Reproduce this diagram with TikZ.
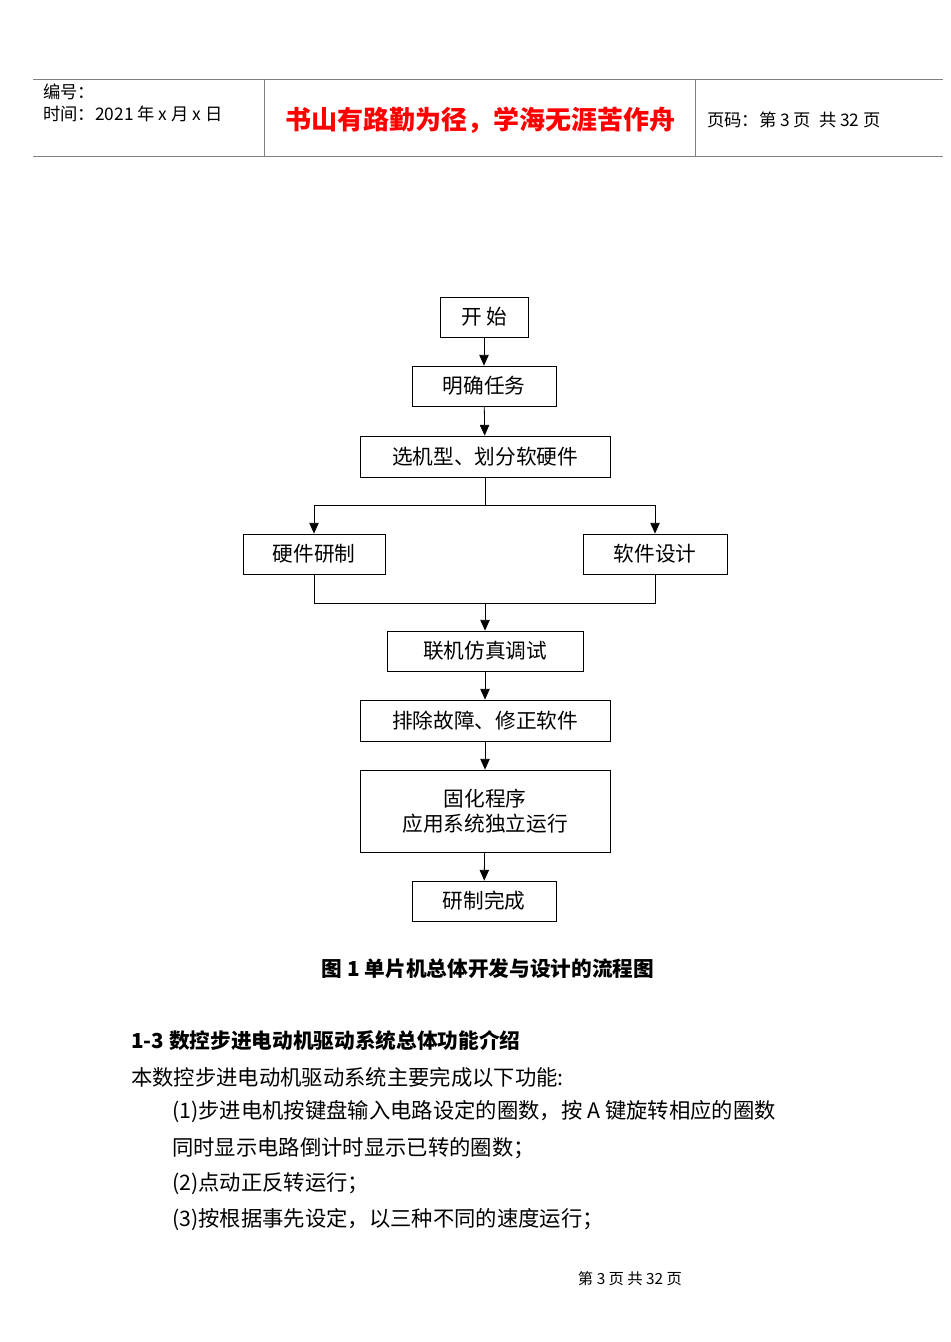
\documentclass[tikz,border=0pt]{standalone}
\usepackage{fontspec}
\setmainfont{Noto Sans CJK SC}
\usetikzlibrary{arrows.meta}
\begin{document}
\begin{tikzpicture}[x=0.75pt,y=-0.75pt,
  box/.style={draw,semithick,inner sep=0pt,font=\fontsize{15.5}{19}\selectfont,align=center},
  arr/.style={semithick,-{Triangle[length=8pt,width=7pt]}},
  ln/.style={semithick},
  txt/.style={anchor=west,inner sep=0pt,font=\fontsize{16}{19}\selectfont}]
\useasboundingbox (0,0) rectangle (950,1342);
\fill[white] (0,0) rectangle (950,1342);
% header
\draw[gray] (33,79) -- (943,79) (33,156) -- (943,156) (264,79) -- (264,156) (695,79) -- (695,156);
\node[txt,font=\fontsize{13}{15}\selectfont] (h1) at (43,92) {编号：};
\node[txt,font=\fontsize{13}{15}\selectfont] (h2) at (43,114) {时间：2021 年 x 月 x 日};
\node[inner sep=0pt,text=red,font=\fontsize{19.5}{22}\selectfont\bfseries] (ht) at (480,120) {书山有路勤为径，学海无涯苦作舟};
\node[txt,font=\fontsize{13}{15}\selectfont] (h3) at (707,120) {页码：第 3 页\ \ 共 32 页};
% flowchart
\node[box,minimum width={88*0.75pt},minimum height={40*0.75pt}] (a) at (484,317) {开\ 始};
\node[box,minimum width={144*0.75pt},minimum height={40*0.75pt}] (b) at (484,386) {明确任务};
\node[box,minimum width={250*0.75pt},minimum height={41*0.75pt}] (c) at (485,456.5) {选机型、划分软硬件};
\node[box,minimum width={142*0.75pt},minimum height={40*0.75pt}] (d) at (314,554) {硬件研制};
\node[box,minimum width={144*0.75pt},minimum height={40*0.75pt}] (e) at (655,554) {软件设计};
\node[box,minimum width={196*0.75pt},minimum height={40*0.75pt}] (f) at (485,651) {联机仿真调试};
\node[box,minimum width={250*0.75pt},minimum height={41*0.75pt}] (g) at (485,720.5) {排除故障、修正软件};
\node[box,minimum width={250*0.75pt},minimum height={82*0.75pt}] (h) at (485,811) {固化程序\\应用系统独立运行};
\node[box,minimum width={144*0.75pt},minimum height={40*0.75pt}] (i) at (484,901) {研制完成};
\coordinate (s) at (485,505);
\coordinate (m) at (485,603);
\draw[arr] (a) -- (b);
\draw[arr] (b) -- (c);
\draw[arr] (c.south) -- (c.south |- s) -- (s -| d) -- (d);
\draw[ln] (c.south |- s) -- (s -| e);
\draw[arr] (s -| e) -- (e);
\draw[ln] (d.south) -- (d.south |- m) -- (m -| e) -- (e.south);
\draw[arr] (m) -- (f);
\draw[arr] (f) -- (g);
\draw[arr] (g) -- (h);
\draw[arr] (h) -- (i);
% text
\node[inner sep=0pt,font=\fontsize{15.5}{19}\selectfont\bfseries] (cap) at (488,969) {图 1 单片机总体开发与设计的流程图};
\node[txt,font=\fontsize{15.5}{19}\selectfont\bfseries] (sec) at (131,1041) {1-3 数控步进电动机驱动系统总体功能介绍};
\node[txt] (p0) at (131,1077) {本数控步进电动机驱动系统主要完成以下功能:};
\node[txt] (p1) at (172,1112) {(1)步进电机按键盘输入电路设定的圈数，按 A 键旋转相应的圈数};
\node[txt] (p2) at (172,1148) {同时显示电路倒计时显示已转的圈数；};
\node[txt] (p3) at (172,1184) {(2)点动正反转运行；};
\node[txt] (p4) at (172,1220) {(3)按根据事先设定，以三种不同的速度运行；};
\node[inner sep=0pt,font=\fontsize{11.5}{14}\selectfont] (ft) at (630,1279) {第\ 3\ 页\ 共\ 32\ 页};
\end{tikzpicture}
\end{document}
